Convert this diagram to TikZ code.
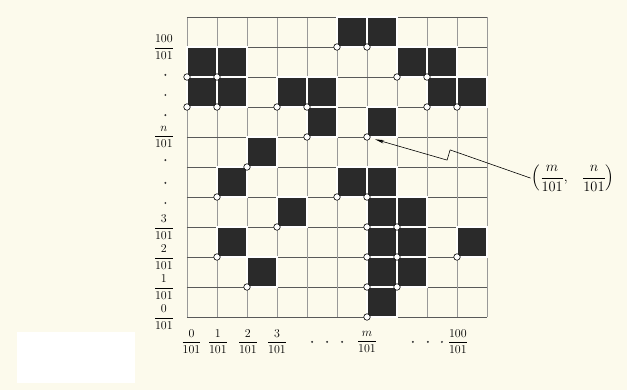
\documentclass[tikz,border=0pt]{standalone}
\usepackage{amsmath}
\usepackage{tikz}
\usetikzlibrary{arrows.meta}

\definecolor{paper}{HTML}{FCFAEC}
\definecolor{ink}{HTML}{2A2A2A}

\tikzset{
  cell/.style={fill=ink,draw=white,line width=1.3pt},
  knot/.style={circle,fill=white,draw=black,line width=0.6pt,inner sep=0pt,minimum size=6.5pt},
  hline/.style={draw=black!65,line width=0.65pt},
  vline/.style={draw=black!40,line width=0.4pt},
  frac/.style={font=\fontsize{11.5}{11.5}\selectfont,inner sep=0pt},
  dot/.style={fill=black!80}
}

\begin{document}
\begin{tikzpicture}[x=30pt,y=30pt]
\fill[paper] (-6.233,-2.433) rectangle (14.667,10.567);
\useasboundingbox (-6.233,-2.433) rectangle (14.667,10.567);
\fill[white] (-5.67,-0.5) rectangle (-1.73,-2.2);

\foreach \i in {0,...,10} {
  \draw[vline] (\i,0) -- (\i,10);
  \draw[hline] (0,\i) -- (10,\i);
}

\foreach \i/\j in {5/9,6/9, 0/8,1/8,7/8,8/8, 0/7,1/7,3/7,4/7,8/7,9/7,
                   4/6,6/6, 2/5, 1/4,5/4,6/4, 3/3,6/3,7/3,
                   1/2,6/2,7/2,9/2, 2/1,6/1,7/1, 6/0}
  \draw[cell] (\i,\j) rectangle ++(1,1);

\foreach \i/\j in {5/9,6/9, 0/8,1/8,7/8,8/8, 0/7,1/7,3/7,4/7,8/7,9/7,
                   4/6,6/6, 2/5, 1/4,5/4,6/4, 3/3,6/3,7/3,
                   1/2,6/2,7/2,9/2, 2/1,6/1,7/1, 6/0}
  \node[knot] (c\i\j) at (\i,\j) {};

\foreach \t/\y in {100/9, n/6, 3/3, 2/2, 1/1, 0/0}
  \node[frac] (ly\y) at (-0.77,\y) {$\dfrac{\t}{101}$};
\foreach \y in {8.07,7.4,6.73,5.23,4.47,3.8}
  \fill[dot] (-0.72,\y) circle (1.1pt);

\foreach \t/\x in {0/0.15, 1/1.03, 2/2.03, 3/3.0, m/6.0, 100/9.03}
  \node[frac] at (\x,-0.83) {$\dfrac{\t}{101}$};
\foreach \x in {4.17,4.67,5.17,7.53,8.03,8.5}
  \fill[dot] (\x,-0.83) circle (1.1pt);

\node[font=\fontsize{14}{14}\selectfont,inner sep=1pt] (pt) at (12.87,4.63)
  {$\left(\dfrac{m}{101},\;\;\;\dfrac{n}{101}\right)$};
\draw[line width=0.6pt,-{Stealth[length=9pt,width=3.5pt]},shorten >=5pt]
  (pt.west) -- (8.77,5.57) -- (8.67,5.23) -- (c66);
\end{tikzpicture}
\end{document}
